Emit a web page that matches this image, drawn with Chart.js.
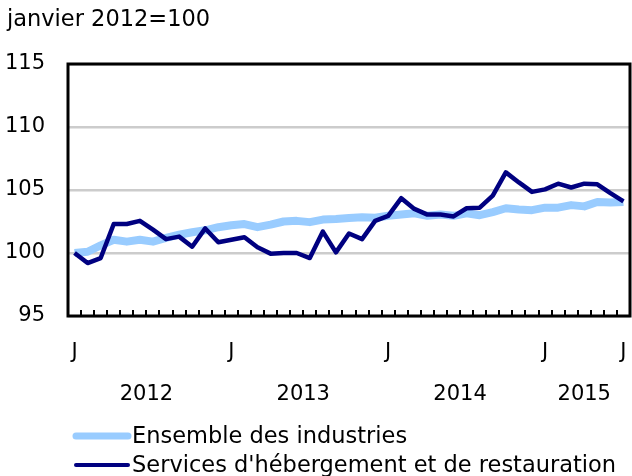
<!DOCTYPE html>
<html><head><meta charset="utf-8">
<script src="https://cdn.jsdelivr.net/npm/chart.js@4/dist/chart.umd.min.js"></script>
<style>html,body{margin:0;padding:0;background:#fff}#wrap{width:632px;height:476px;position:relative}</style>
</head><body><div id="wrap"><canvas id="c" width="632" height="476"></canvas></div>
<script>
const uniteTitre = 'janvier 2012=100';
const months = [
 '2012-01','2012-02','2012-03','2012-04','2012-05','2012-06','2012-07','2012-08','2012-09','2012-10','2012-11','2012-12',
 '2013-01','2013-02','2013-03','2013-04','2013-05','2013-06','2013-07','2013-08','2013-09','2013-10','2013-11','2013-12',
 '2014-01','2014-02','2014-03','2014-04','2014-05','2014-06','2014-07','2014-08','2014-09','2014-10','2014-11','2014-12',
 '2015-01','2015-02','2015-03','2015-04','2015-05','2015-06','2015-07'];
const seriesNames = ["Ensemble des industries", "Services d'hébergement et de restauration"];
const ensemble = [100.0,100.1,100.6,101.05,100.9,101.05,100.9,101.2,101.45,101.65,101.8,102.05,
 102.2,102.3,102.05,102.25,102.5,102.55,102.45,102.65,102.7,102.78,102.83,102.8,
 102.95,103.05,103.15,102.95,103.05,102.95,103.15,103.0,103.25,103.55,103.45,103.4,
 103.6,103.6,103.8,103.7,104.05,104.0,104.05];
const hebergement = [100.0,99.2,99.6,102.3,102.3,102.55,101.85,101.1,101.3,100.5,101.95,100.85,
 101.05,101.25,100.45,99.95,100.0,100.0,99.6,101.7,100.05,101.55,101.1,102.55,
 102.95,104.35,103.5,103.05,103.05,102.9,103.55,103.6,104.55,106.4,105.6,104.85,
 105.05,105.5,105.2,105.5,105.45,104.75,104.1];
const moisInitiales = ['J','F','M','A','M','J','J','A','S','O','N','D'];
const yTicks = [95,100,105,110,115];

const FONT = 'DejaVu Sans, Verdana, sans-serif';
const FS = 21;
const FS_TEXT = 22.5;

// x tick definitions from categories
const tickDefs = [];
months.forEach((m,i)=>{ if (m.endsWith('-01') || i===months.length-1) tickDefs.push({value:i, label:[moisInitiales[+m.slice(5)-1]]}); });
const years = [...new Set(months.map(m=>m.slice(0,4)))];
years.forEach(y=>{
  const idx = months.map((m,i)=>m.startsWith(y)?i:-1).filter(i=>i>=0);
  tickDefs.push({value:(idx[0]+idx[idx.length-1])/2, label:['','',y]});
});
tickDefs.sort((a,b)=>a.value-b.value);

const toXY = arr => arr.map((v,i)=>({x:i,y:v}));

const framePlugin = {
  id:'frame',
  afterDraw(chart){
    const {ctx, chartArea:a} = chart;
    const xs = chart.scales.x;
    ctx.save();
    ctx.strokeStyle = '#000'; ctx.lineWidth = 2;
    for (let i=0;i<months.length-1;i++){
      const px = Math.round(xs.getPixelForValue(i+0.5));
      ctx.beginPath(); ctx.moveTo(px, a.bottom); ctx.lineTo(px, a.bottom-6); ctx.stroke();
    }
    ctx.lineWidth = 3;
    ctx.strokeRect(a.left, a.top, a.right-a.left, a.bottom-a.top);
    ctx.fillStyle = '#000'; ctx.font = FS_TEXT+'px '+FONT; ctx.textBaseline='middle'; ctx.textAlign='left';
    ctx.fillText(uniteTitre, 7, 20);
    const legendY = [436, 465];
    const lw = [7, 4];
    chart.data.datasets.forEach((ds,k)=>{
      ctx.strokeStyle = ds.borderColor; ctx.lineWidth = lw[k]; ctx.lineCap='round';
      ctx.beginPath(); ctx.moveTo(76, legendY[k]); ctx.lineTo(128, legendY[k]); ctx.stroke();
      ctx.fillStyle='#000';
      ctx.fillText(ds.label, 132, legendY[k]+1);
    });
    ctx.restore();
  }
};

new Chart(document.getElementById('c'), {
  type:'line',
  data:{ datasets:[
    {label:seriesNames[0], data:toXY(ensemble), borderColor:'#99ccff', borderWidth:8, pointRadius:0, tension:0, order:2, borderJoinStyle:'round'},
    {label:seriesNames[1], data:toXY(hebergement), borderColor:'#000080', borderWidth:4.5, pointRadius:0, tension:0, order:1, borderJoinStyle:'round'}
  ]},
  options:{
    responsive:false, animation:false, devicePixelRatio:1,
    layout:{padding:{top:64, right:2, left:0, bottom:0}},
    plugins:{legend:{display:false}, title:{display:false}, tooltip:{enabled:false}},
    scales:{
      x:{type:'linear', min:-0.5, max:months.length-0.5,
        afterBuildTicks(s){ s.ticks = tickDefs.map(t=>({value:t.value})); },
        afterFit(s){ s.height = 160; s.paddingLeft = 0; s.paddingRight = 0; },
        grid:{display:false, drawTicks:false}, border:{display:false},
        ticks:{autoSkip:false, maxRotation:0, padding:26, color:'#000',
          font:{family:FONT, size:FS, lineHeight:'21px'},
          callback(v){ const t = tickDefs.find(d=>Math.abs(d.value-v)<1e-6); return t ? t.label : ''; }}
      },
      y:{type:'linear', min:yTicks[0], max:yTicks[yTicks.length-1],
        afterBuildTicks(s){ s.ticks = yTicks.map(v=>({value:v})); },
        afterFit(s){ s.width = 68; s.paddingTop = 0; s.paddingBottom = 0; },
        grid:{color:'#cccccc', lineWidth:2.5, drawTicks:false}, border:{display:false},
        ticks:{padding:23, color:'#000', font:{family:FONT, size:FS}}
      }
    }
  },
  plugins:[framePlugin]
});
</script></body></html>
